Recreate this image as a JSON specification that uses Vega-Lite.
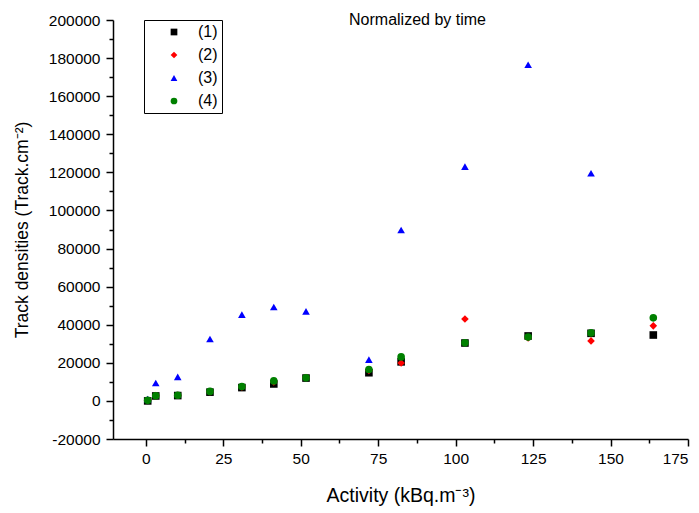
{
  "$schema": "https://vega.github.io/schema/vega-lite/v6.json",
  "width": 575,
  "height": 419,
  "autosize": "none",
  "padding": {"left": 113, "top": 20, "right": 11, "bottom": 74},
  "background": "white",
  "config": {
    "view": {"stroke": null},
    "font": "Liberation Sans",
    "axis": {"grid": false, "domainColor": "black", "tickColor": "black", "labelColor": "black", "titleColor": "black", "labelFont": "Liberation Sans", "titleFont": "Liberation Sans", "labelFontSize": 15.5, "titleFontSize": 17, "titleFontWeight": "normal", "domainWidth": 1.5, "tickWidth": 1.5}
  },
  "title": {"text": "Normalized by time", "font": "Liberation Sans", "fontSize": 16, "fontWeight": "normal", "color": "black", "anchor": "middle", "dx": 17, "offset": -15},
  "data": {
    "values": [
      {"s": "S1", "x": 0.6, "y": 0},
      {"s": "S1", "x": 3.2, "y": 2600},
      {"s": "S1", "x": 10.3, "y": 2800},
      {"s": "S1", "x": 20.7, "y": 4600},
      {"s": "S1", "x": 31, "y": 7000},
      {"s": "S1", "x": 41.3, "y": 8900},
      {"s": "S1", "x": 51.7, "y": 12000},
      {"s": "S1", "x": 72, "y": 14800},
      {"s": "S1", "x": 82.4, "y": 20500},
      {"s": "S1", "x": 103, "y": 30400},
      {"s": "S1", "x": 123.4, "y": 34100},
      {"s": "S1", "x": 143.7, "y": 35500},
      {"s": "S1", "x": 163.8, "y": 34600},
      {"s": "S2", "x": 0.6, "y": 500},
      {"s": "S2", "x": 3.2, "y": 2800},
      {"s": "S2", "x": 10.3, "y": 3000},
      {"s": "S2", "x": 20.7, "y": 4800},
      {"s": "S2", "x": 31, "y": 7300},
      {"s": "S2", "x": 41.3, "y": 10000},
      {"s": "S2", "x": 51.7, "y": 12300},
      {"s": "S2", "x": 72, "y": 16000},
      {"s": "S2", "x": 82.4, "y": 19900},
      {"s": "S2", "x": 103, "y": 43000},
      {"s": "S2", "x": 123.4, "y": 33000},
      {"s": "S2", "x": 143.7, "y": 31500},
      {"s": "S2", "x": 163.8, "y": 39400},
      {"s": "S3", "x": 0.6, "y": 1000},
      {"s": "S3", "x": 3.2, "y": 9400},
      {"s": "S3", "x": 10.3, "y": 12600},
      {"s": "S3", "x": 20.7, "y": 32500},
      {"s": "S3", "x": 31, "y": 45300},
      {"s": "S3", "x": 41.3, "y": 49300},
      {"s": "S3", "x": 51.7, "y": 47000},
      {"s": "S3", "x": 72, "y": 21700},
      {"s": "S3", "x": 82.4, "y": 89700},
      {"s": "S3", "x": 103, "y": 123000},
      {"s": "S3", "x": 123.4, "y": 176500},
      {"s": "S3", "x": 143.7, "y": 119500},
      {"s": "S4", "x": 0.6, "y": 300},
      {"s": "S4", "x": 3.2, "y": 2700},
      {"s": "S4", "x": 10.3, "y": 3000},
      {"s": "S4", "x": 20.7, "y": 5000},
      {"s": "S4", "x": 31, "y": 7600},
      {"s": "S4", "x": 41.3, "y": 10500},
      {"s": "S4", "x": 51.7, "y": 12100},
      {"s": "S4", "x": 72, "y": 16500},
      {"s": "S4", "x": 82.4, "y": 23100},
      {"s": "S4", "x": 103, "y": 30500},
      {"s": "S4", "x": 123.4, "y": 33500},
      {"s": "S4", "x": 143.7, "y": 35700},
      {"s": "S4", "x": 163.8, "y": 43600}
    ]
  },
  "layer": [
    {
      "mark": {"type": "point", "filled": true, "opacity": 1, "size": 58},
      "encoding": {
        "x": {"field": "x", "type": "quantitative", "scale": {"domain": [-10.6, 175], "nice": false, "zero": false},
          "axis": {"orient": "bottom", "values": [0, 25, 50, 75, 100, 125, 150, 175], "tickSize": 7, "labelPadding": 5, "title": "Activity (kBq.m⁻³)", "titleFontSize": 19.5, "titlePadding": 20, "labelExpr": "'' + datum.value"}},
        "y": {"field": "y", "type": "quantitative", "scale": {"domain": [-20000, 200000], "nice": false, "zero": false},
          "axis": {"orient": "left", "values": [-20000, 0, 20000, 40000, 60000, 80000, 100000, 120000, 140000, 160000, 180000, 200000], "tickSize": 7, "labelPadding": 6, "title": "Track densities (Track.cm⁻²)", "titleFontSize": 17.5, "titlePadding": 17, "labelExpr": "'' + datum.value"}},
        "color": {"field": "s", "type": "nominal", "scale": {"domain": ["S1", "S2", "S3", "S4"], "range": ["#000000", "#ff0000", "#0000ff", "#008000"]},
          "legend": {"title": null, "orient": "none", "legendX": 31, "legendY": 0, "strokeColor": "black", "padding": 4, "symbolOffset": 18, "labelFontSize": 16, "labelFont": "Liberation Sans", "labelColor": "black", "rowPadding": 7, "symbolSize": 45, "labelOffset": 16, "labelExpr": "'(' + substring(datum.label, 1) + ')'"}},
        "shape": {"field": "s", "type": "nominal", "scale": {"domain": ["S1", "S2", "S3", "S4"], "range": ["square", "diamond", "triangle-up", "circle"]}}
      }
    },
    {
      "mark": {"type": "point", "opacity": 0},
      "encoding": {
        "x": {"field": "x", "type": "quantitative", "axis": {"orient": "bottom", "values": [12.5, 37.5, 62.5, 87.5, 112.5, 137.5, 162.5], "labels": false, "domain": false, "tickSize": 4, "title": null}},
        "y": {"field": "y", "type": "quantitative", "axis": {"orient": "left", "values": [-10000, 10000, 30000, 50000, 70000, 90000, 110000, 130000, 150000, 170000, 190000], "labels": false, "domain": false, "tickSize": 4, "title": null}}
      }
    }
  ],
  "resolve": {"axis": {"x": "independent", "y": "independent"}}
}
